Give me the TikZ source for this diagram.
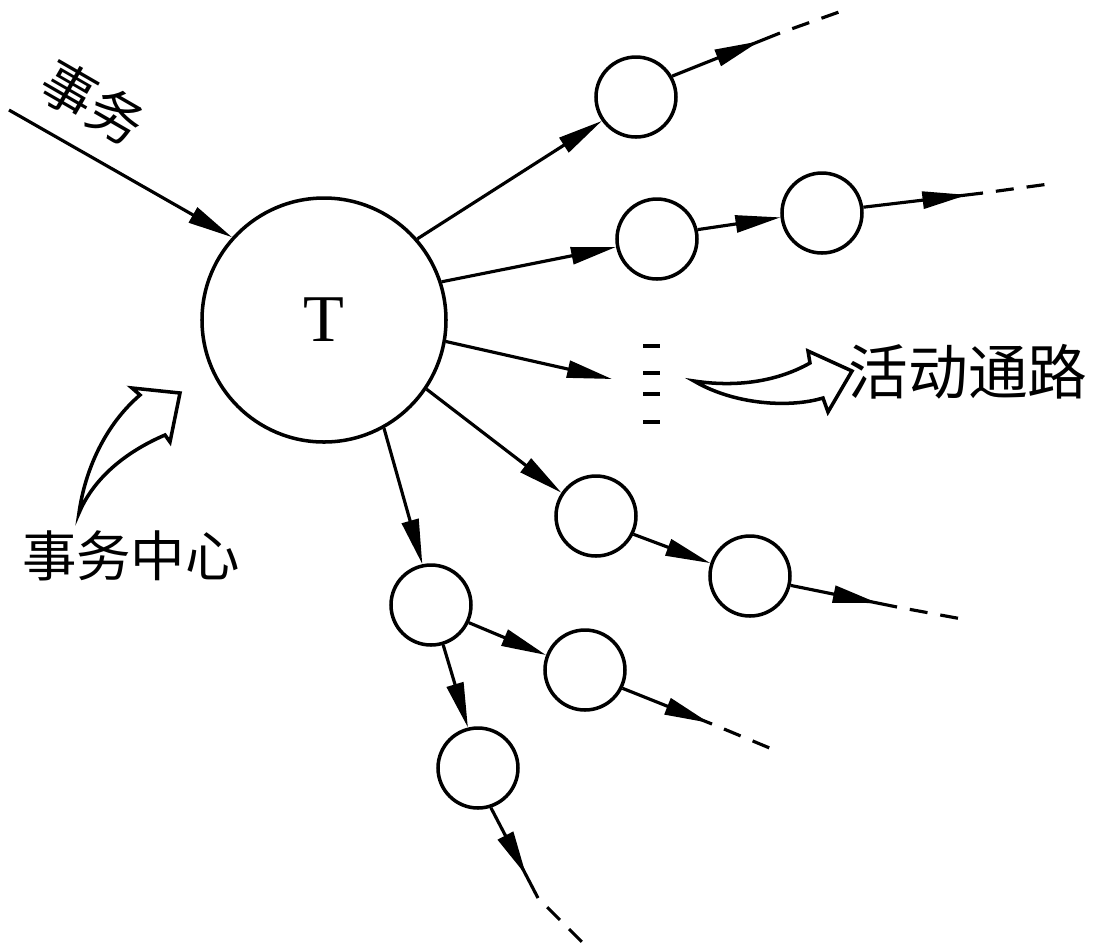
\documentclass[tikz,border=0pt]{standalone}
\usepackage{fontspec}
\setmainfont{Liberation Serif}
\newfontfamily\cjk{Noto Sans CJK SC}
\usetikzlibrary{arrows.meta,decorations.markings}

\tikzset{
  hub/.style={circle,draw,line width=1pt,minimum size=24.4mm,inner sep=0pt,font=\fontsize{19}{22}\selectfont},
  station/.style={circle,draw,line width=1pt,minimum size=8mm,inner sep=0pt},
  flow/.style={line width=0.9pt,-{Triangle[length=4.5mm,width=1.7mm]}},
  midflow/.style={line width=0.9pt,postaction={decorate},
    decoration={markings,mark=at position #1 with {\arrow{Triangle[length=4.5mm,width=1.7mm]}}}},
  trail/.style={line width=0.9pt,dash pattern=on 1.8mm off 1.3mm,dash phase=1.8mm},
  hollow/.style={line width=1pt,line join=miter},
  note/.style={font=\cjk\fontsize{15.5}{18}\selectfont,inner sep=0pt}
}

\begin{document}
\begin{tikzpicture}[x=0.1mm,y=-0.1mm]
  \useasboundingbox (0,0) rectangle (1095,945);
  % transaction centre and the stations behind it
  \node[hub] (T) at (324,320) {T};
  \node[station] (c1) at (636,97) {};
  \node[station] (c2) at (657,239) {};
  \node[station] (c3) at (822,213) {};
  \node[station] (c4) at (596,516) {};
  \node[station] (c5) at (750,576) {};
  \node[station] (c6) at (431,605) {};
  \node[station] (c7) at (585,670) {};
  \node[station] (c8) at (478,768) {};
  % free ends
  \coordinate (in) at (9,110);
  \coordinate (dotsin) at (612,379);
  \coordinate (c1end) at (780,33);   \coordinate (c1far) at (839,12);
  \coordinate (c3end) at (983,193);  \coordinate (c3far) at (1049,184);
  \coordinate (c5end) at (897,607);  \coordinate (c5far) at (962,619);
  \coordinate (c7end) at (712,724);  \coordinate (c7far) at (772,749);
  \coordinate (c8end) at (538,898);  \coordinate (c8far) at (582,942);
  % connectors
  \draw[flow] (in) -- (T.138);
  \draw[flow] (T.41) -- (c1.215);
  \draw[flow] (T.18) -- (c2.191);
  \draw[flow] (c2.13) -- (c3.186);
  \draw[flow] (T.-10) -- (dotsin);
  \draw[flow] (T.-34) -- (c4.146);
  \draw[flow] (c4.-26) -- (c5.162);
  \draw[flow] (T.-61) -- (c6.102);
  \draw[flow] (c6.-25) -- (c7.159);
  \draw[flow] (c6.-73) -- (c8.104);
  % open ends
  \draw[midflow=0.81] (c1.30) -- (c1end);
  \draw[trail] (c1end) -- (c1far);
  \draw[midflow=0.87] (c3.8) -- (c3end);
  \draw[trail] (c3end) -- (c3far);
  \draw[midflow=0.82] (c5.-13) -- (c5end);
  \draw[trail] (c5end) -- (c5far);
  \draw[midflow=0.97] (c7.-26) -- (c7end);
  \draw[trail] (c7end) -- (c7far);
  \draw[midflow=0.75] (c8.-72) -- (c8end);
  \draw[trail] (c8end) -- (c8far);
  % more paths
  \foreach \y in {346,373,394,422}
    \draw[line width=1.3pt] (643,\y) -- (660,\y);
  % hollow pointers
  \draw[hollow] (694,381) .. controls (740,388) and (780,380) .. (810,363)
    -- (808,351) -- (852,371) -- (828,412) -- (823,398)
    .. controls (790,408) and (735,405) .. cycle;
  \draw[hollow] (79,513) .. controls (85,470) and (105,425) .. (140,395)
    -- (132,388) -- (180,393) -- (170,442) -- (165,435)
    .. controls (130,450) and (95,475) .. cycle;
  % texts
  \node[note,rotate=-30] (inlbl) at (93,103) {事务};
  \node[note] (centre) at (131,556) {事务中心};
  \node[note,font=\cjk\fontsize{17}{20}\selectfont] (route) at (968,372) {活动通路};
\end{tikzpicture}
\end{document}
